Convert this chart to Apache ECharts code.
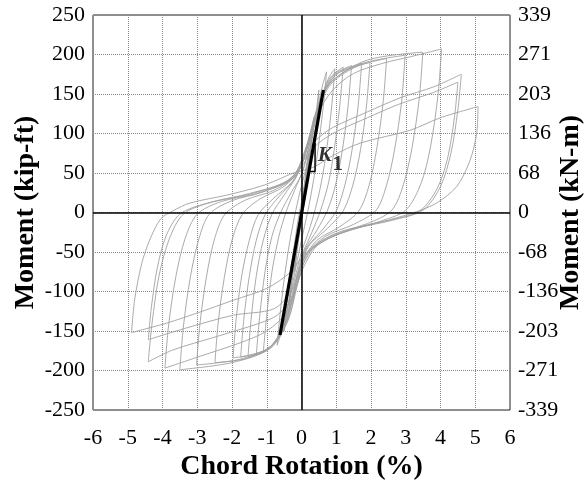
<!DOCTYPE html>
<html><head><meta charset="utf-8">
<script src="https://cdn.jsdelivr.net/npm/echarts@6/dist/echarts.min.js"></script>
<style>html,body{margin:0;padding:0;background:#fff}#c{width:587px;height:483px}</style>
</head><body><div id="c"></div>
<script>
// Tick labels
const xTicks = [-6,-5,-4,-3,-2,-1,0,1,2,3,4,5,6];
const yLeftTicks = [-250,-200,-150,-100,-50,0,50,100,150,200,250];
const yRightLabels = ['-339','-271','-203','-136','-68','0','68','136','203','271','339'];

// Hysteresis branches [rotation %, moment kip-ft]
const c00Up = [[-0.2,-75],[-0.1,-38],[0,0],[0.1,38],[0.2,75]];
const c00Down = [[0.2,75],[0.1,42],[0,5],[-0.1,-32],[-0.2,-75]];
const c01Up = [[-0.35,-118],[-0.3,-95],[-0.22,-65],[-0.12,-35],[0,-5],[0.12,30],[0.22,65],[0.3,95],[0.35,120]];
const c01Down = [[0.35,120],[0.3,97],[0.22,68],[0.12,38],[0,5],[-0.12,-30],[-0.22,-62],[-0.3,-92],[-0.35,-118]];
const c02Up = [[-0.5,-150],[-0.44,-120],[-0.35,-85],[-0.22,-45],[-0.1,-10],[0.05,25],[0.2,65],[0.33,100],[0.43,130],[0.5,155]];
const c02Down = [[0.5,155],[0.45,128],[0.37,95],[0.25,58],[0.12,22],[0,-10],[-0.12,-45],[-0.25,-80],[-0.38,-115],[-0.5,-150]];
const c03Up = [[-0.7,-168],[-0.62,-130],[-0.5,-85],[-0.35,-40],[-0.2,-5],[-0.05,25],[0.15,60],[0.32,100],[0.48,135],[0.6,160],[0.72,178]];
const c03Down = [[0.72,178],[0.64,140],[0.52,95],[0.38,50],[0.22,10],[0.05,-25],[-0.12,-60],[-0.3,-100],[-0.45,-130],[-0.58,-152],[-0.7,-168]];
const c04Up = [[-1.1,-177],[-1.0,-130],[-0.85,-75],[-0.65,-30],[-0.45,0],[-0.2,28],[0.05,55],[0.25,90],[0.45,125],[0.65,155],[0.8,172],[0.96,182]];
const c04Down = [[0.96,182],[0.87,135],[0.74,85],[0.58,40],[0.4,5],[0.2,-25],[0,-50],[-0.2,-85],[-0.4,-120],[-0.6,-150],[-0.85,-168],[-1.1,-177]];
const c05Up = [[-1.3,-180],[-1.2,-130],[-1.05,-75],[-0.85,-30],[-0.6,0],[-0.3,25],[0,48],[0.2,80],[0.4,118],[0.6,150],[0.85,172],[1.2,184]];
const c05Down = [[1.2,184],[1.1,135],[0.95,82],[0.78,38],[0.55,3],[0.3,-25],[0.05,-50],[-0.15,-82],[-0.35,-118],[-0.55,-148],[-0.85,-170],[-1.3,-180]];
const c06Up = [[-1.54,-183],[-1.45,-135],[-1.3,-80],[-1.1,-35],[-0.85,-2],[-0.5,22],[-0.15,45],[0.1,75],[0.35,115],[0.6,150],[0.95,175],[1.44,186]];
const c06Down = [[1.44,186],[1.34,135],[1.18,80],[0.98,35],[0.75,3],[0.45,-22],[0.1,-47],[-0.12,-80],[-0.32,-118],[-0.55,-150],[-0.95,-172],[-1.54,-183]];
const c07Up = [[-1.75,-183],[-1.66,-135],[-1.5,-80],[-1.3,-35],[-1.05,-3],[-0.65,20],[-0.2,42],[0.1,72],[0.35,112],[0.6,148],[1.0,175],[1.73,189]];
const c07Down = [[1.73,189],[1.63,135],[1.45,78],[1.25,35],[1.0,2],[0.6,-22],[0.15,-45],[-0.1,-78],[-0.3,-115],[-0.55,-150],[-1.0,-173],[-1.75,-183]];
const c08Up = [[-1.97,-184],[-1.88,-135],[-1.72,-80],[-1.5,-35],[-1.25,-3],[-0.8,18],[-0.25,40],[0.08,70],[0.33,110],[0.6,148],[1.05,176],[1.97,190]];
const c08Down = [[1.97,190],[1.87,135],[1.7,80],[1.48,35],[1.2,2],[0.75,-20],[0.2,-43],[-0.08,-75],[-0.3,-115],[-0.55,-150],[-1.05,-175],[-1.97,-184]];
const c09Up = [[-2.49,-190],[-2.4,-140],[-2.22,-82],[-2.0,-35],[-1.7,-2],[-1.2,17],[-0.5,33],[-0.05,55],[0.25,95],[0.5,135],[0.9,165],[1.6,185],[2.45,195]];
const c09Down = [[2.45,195],[2.35,140],[2.17,82],[1.95,35],[1.65,2],[1.1,-18],[0.45,-35],[0.05,-60],[-0.2,-100],[-0.45,-140],[-0.9,-170],[-1.6,-185],[-2.49,-190]];
const c10Up = [[-3.02,-193],[-2.92,-140],[-2.73,-80],[-2.5,-33],[-2.2,-2],[-1.6,16],[-0.8,28],[-0.15,48],[0.2,90],[0.45,130],[0.85,165],[1.7,188],[2.98,199]];
const c10Down = [[2.98,199],[2.88,140],[2.68,80],[2.45,35],[2.15,3],[1.5,-15],[0.7,-30],[0.1,-55],[-0.15,-95],[-0.4,-138],[-0.9,-170],[-1.8,-186],[-3.02,-193]];
const c11Up = [[-3.5,-199],[-3.4,-145],[-3.2,-82],[-2.95,-33],[-2.65,-2],[-2.0,15],[-1.1,26],[-0.25,45],[0.15,85],[0.42,128],[0.85,165],[1.9,193],[3.49,203]];
const c11Down = [[3.49,203],[3.39,145],[3.18,82],[2.93,35],[2.6,3],[1.9,-14],[0.9,-28],[0.15,-52],[-0.12,-92],[-0.38,-135],[-0.9,-172],[-2.0,-190],[-3.5,-199]];
const c12Up = [[-3.93,-197],[-3.83,-145],[-3.62,-82],[-3.35,-33],[-3.0,-2],[-2.3,14],[-1.3,24],[-0.3,42],[0.1,78],[0.4,120],[0.9,155],[1.5,176],[2.35,189],[3.12,197],[4.03,207]];
const c12Down = [[4.03,207],[3.93,150],[3.72,85],[3.45,38],[3.0,3],[2.2,-12],[1.2,-25],[0.25,-48],[-0.1,-88],[-0.4,-125],[-1.0,-150],[-1.77,-165],[-2.92,-182],[-3.93,-197]];
const c13Up = [[-4.41,-189],[-4.3,-140],[-4.1,-80],[-3.8,-33],[-3.4,-2],[-2.6,13],[-1.5,24],[-0.4,40],[0.05,65],[0.3,85],[0.5,95],[0.92,108],[1.88,127],[2.83,145],[3.8,159],[4.6,175]];
const c13Down = [[4.6,175],[4.5,130],[4.3,75],[4.0,33],[3.5,3],[2.6,-10],[1.5,-21],[0.5,-40],[0.05,-70],[-0.3,-110],[-0.7,-130],[-1.2,-140],[-2.44,-157],[-3.7,-174],[-4.41,-189]];
const c13bUp = [[-4.41,-161],[-4.32,-120],[-4.15,-70],[-3.9,-30],[-3.5,-2],[-2.7,12],[-1.6,22],[-0.5,38],[0,58],[0.35,82],[0.9,100],[1.9,120],[2.8,137],[3.8,152],[4.5,165]];
const c13bDown = [[4.5,165],[4.4,120],[4.2,68],[3.9,30],[3.4,2],[2.5,-10],[1.5,-20],[0.5,-38],[0.05,-65],[-0.3,-100],[-0.8,-122],[-1.96,-130],[-3.3,-146],[-4.41,-161]];
const c14Up = [[-4.89,-152],[-4.8,-110],[-4.6,-65],[-4.37,-35],[-4.05,-8],[-3.7,2],[-3.21,12],[-2.15,22],[-1.19,33],[-0.71,41],[-0.23,50],[0.33,57],[0.9,72],[1.7,88],[3.12,104],[4.0,120],[5.08,134]];
const c14Down = [[5.08,134],[5.04,100],[4.85,66],[4.47,33],[3.89,12],[3.31,1],[2.55,-9],[1.59,-20],[0.91,-30],[0.44,-42],[0.04,-55],[-0.3,-75],[-1.0,-96],[-1.96,-111],[-2.92,-126],[-3.88,-140],[-4.89,-152]];

// Initial stiffness line K1 and its triangle
const k1Line = [[-0.62,-155],[0.63,155]];
const k1Triangle = [[0.22,52],[0.39,52],[0.39,88]];
const k1LetterPos = [0.67,71.5];
const k1SubPos = [1.04,61];

const branches = [c00Up,c00Down,c01Up,c01Down,c02Up,c02Down,c03Up,c03Down,c04Up,c04Down,
  c05Up,c05Down,c06Up,c06Down,c07Up,c07Down,c08Up,c08Down,c09Up,c09Down,c10Up,c10Down,
  c11Up,c11Down,c12Up,c12Down,c13Up,c13Down,c13bUp,c13bDown,c14Up,c14Down];

const serif = '"Liberation Serif","Times New Roman",serif';
const series = branches.map(d => ({
  type:'line', data:d, smooth:0.3, symbol:'none', silent:true, z:2,
  lineStyle:{color:'#a0a0a0', width:0.9}
}));
series.push({
  type:'line', data:k1Line, symbol:'none', silent:true, z:5,
  lineStyle:{color:'#000', width:3.2},
  markLine:{silent:true, symbol:'none', label:{show:false},
    lineStyle:{color:'#000', width:1.5, type:'solid'},
    data:[{xAxis:0},{yAxis:0}]}
});
series.push({type:'line', data:k1Triangle, symbol:'none', silent:true, z:5,
  lineStyle:{color:'#000', width:1.5}});
series.push({type:'scatter', symbolSize:0, silent:true, z:6,
  data:[
    {value:k1LetterPos, label:{show:true, position:'inside', formatter:'K', fontStyle:'italic', fontWeight:'bold', fontSize:21, fontFamily:serif, color:'#000'}},
    {value:k1SubPos, label:{show:true, position:'inside', formatter:'1', fontWeight:'bold', fontSize:21, fontFamily:serif, color:'#000'}}
  ]});

const chart = echarts.init(document.getElementById('c'));
chart.setOption({
  animation:false,
  backgroundColor:'#fff',
  grid:{left:93, right:77, top:15, bottom:73, show:true, borderColor:'#222', borderWidth:1,
        containLabel:false, outerBoundsMode:'none'},
  xAxis:{type:'value', min:xTicks[0], max:xTicks[xTicks.length-1], interval:1,
    name:'Chord Rotation (%)', nameLocation:'middle', nameGap:43, nameMoveOverlap:false,
    nameTextStyle:{fontFamily:serif, fontWeight:'bold', fontSize:28, color:'#000'},
    axisLine:{show:false}, axisTick:{show:false},
    axisLabel:{fontFamily:serif, fontSize:22, color:'#000', margin:17},
    splitLine:{show:true, lineStyle:{type:'dotted', color:'#888', width:1}}},
  yAxis:[
    {type:'value', min:yLeftTicks[0], max:yLeftTicks[yLeftTicks.length-1], interval:50, position:'left',
     name:'Moment (kip-ft)', nameLocation:'middle', nameGap:53, nameRotate:90, nameMoveOverlap:false,
     nameTextStyle:{fontFamily:serif, fontWeight:'bold', fontSize:28, color:'#000'},
     axisLine:{show:false}, axisTick:{show:false},
     axisLabel:{fontFamily:serif, fontSize:22, color:'#000', margin:8},
     splitLine:{show:true, lineStyle:{type:'dotted', color:'#888', width:1}}},
    {type:'value', min:yLeftTicks[0], max:yLeftTicks[yLeftTicks.length-1], interval:50, position:'right',
     name:'Moment (kN-m)', nameLocation:'middle', nameGap:47, nameRotate:90, nameMoveOverlap:false,
     nameTextStyle:{fontFamily:serif, fontWeight:'bold', fontSize:28, color:'#000'},
     axisLine:{show:false}, axisTick:{show:false},
     axisLabel:{fontFamily:serif, fontSize:22, color:'#000', margin:8,
       formatter:v => yRightLabels[yLeftTicks.indexOf(v)]},
     splitLine:{show:false}}
  ],
  series:series
});
</script></body></html>
